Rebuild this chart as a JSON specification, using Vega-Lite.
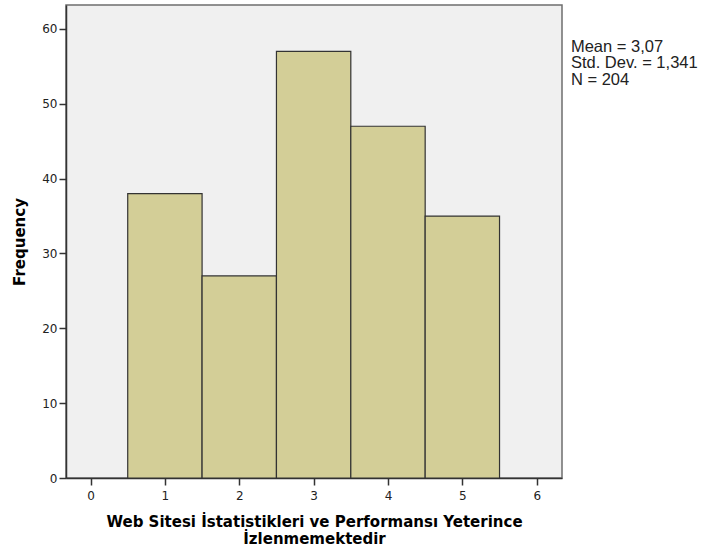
{
  "$schema": "https://vega.github.io/schema/vega-lite/v6.json",
  "width": 496,
  "height": 473,
  "autosize": "none",
  "padding": {"left": 66, "top": 5, "right": 156, "bottom": 77},
  "background": "white",
  "config": {
    "view": {"fill": "#F0F0F0", "stroke": "#6E6E6E", "strokeWidth": 1.5},
    "axis": {
      "grid": false,
      "domainColor": "#333333",
      "domainWidth": 1.5,
      "tickColor": "#333333",
      "tickWidth": 1.5,
      "tickSize": 7,
      "labelFont": "DejaVu Sans",
      "labelFontSize": 12,
      "labelColor": "#222222",
      "titleFont": "DejaVu Sans",
      "titleFontWeight": "bold",
      "titleColor": "#000000"
    }
  },
  "layer": [
    {
      "data": {
        "values": [
          {"lo": 0.5, "hi": 1.5, "count": 38},
          {"lo": 1.5, "hi": 2.5, "count": 27},
          {"lo": 2.5, "hi": 3.5, "count": 57},
          {"lo": 3.5, "hi": 4.5, "count": 47},
          {"lo": 4.5, "hi": 5.5, "count": 35}
        ]
      },
      "mark": {"type": "rect", "fill": "#D3CE97", "stroke": "#333333", "strokeWidth": 1.2},
      "encoding": {
        "x": {
          "field": "lo",
          "type": "quantitative",
          "scale": {"domain": [-0.33, 6.34], "nice": false, "zero": false},
          "axis": {
            "values": [0, 1, 2, 3, 4, 5, 6],
            "format": "d",
            "labelPadding": 5,
            "title": ["Web Sitesi İstatistikleri ve Performansı Yeterince", "İzlenmemektedir"],
            "titleFontSize": 15,
            "titleLineHeight": 17,
            "titlePadding": 13
          }
        },
        "x2": {"field": "hi"},
        "y": {
          "field": "count",
          "type": "quantitative",
          "scale": {"domain": [0, 63.2], "nice": false},
          "axis": {
            "values": [0, 10, 20, 30, 40, 50, 60],
            "labelPadding": 2,
            "title": "Frequency",
            "titleFontSize": 15,
            "titlePadding": 14
          }
        },
        "y2": {"datum": 0}
      }
    },
    {
      "data": {
        "values": [
          {"lines": ["Mean = 3,07", "Std. Dev. = 1,341", "N = 204"]}
        ]
      },
      "mark": {
        "type": "text",
        "align": "left",
        "baseline": "top",
        "font": "Liberation Sans",
        "fontSize": 16.5,
        "lineHeight": 16.5,
        "color": "#222222"
      },
      "encoding": {
        "x": {"datum": 6.46, "type": "quantitative"},
        "y": {"datum": 58.7, "type": "quantitative"},
        "text": {"field": "lines", "type": "nominal"}
      }
    }
  ]
}
